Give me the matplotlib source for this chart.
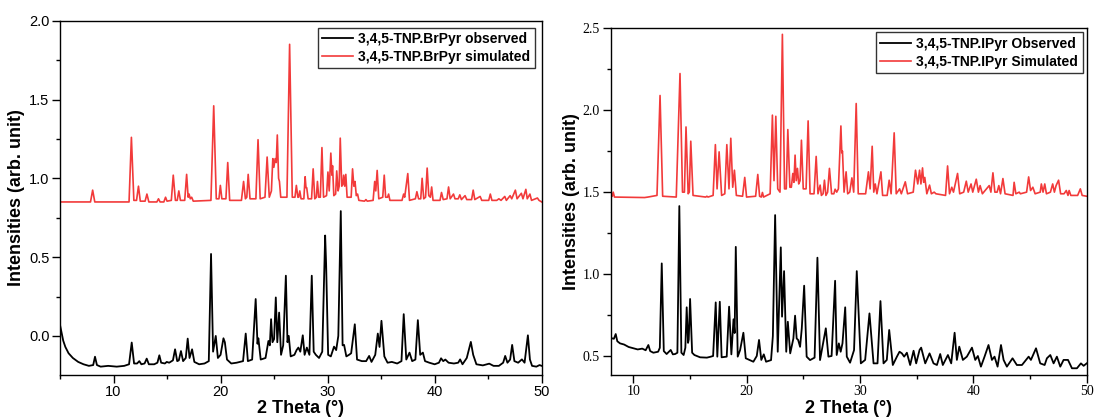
import matplotlib
matplotlib.use("Agg")
import matplotlib.pyplot as plt
from matplotlib.ticker import MultipleLocator, FormatStrFormatter

# ---------------- data: (2theta, intensity) vertices of each pattern ----------------
br_observed = [
    (5.0, 0.07), (5.15, 0.02), (5.3, -0.03), (5.5, -0.07), (5.8, -0.11), (6.2, -0.14),
    (6.7, -0.165), (7.2, -0.18), (7.7, -0.19), (8.1, -0.185), (8.27, -0.132), (8.45, -0.185),
    (8.8, -0.195), (9.5, -0.19), (10.3, -0.195), (11.0, -0.19), (11.45, -0.18), (11.7, -0.042),
    (11.92, -0.175), (12.2, -0.175), (12.41, -0.16), (12.6, -0.18), (12.9, -0.175), (13.1, -0.144),
    (13.3, -0.18), (13.8, -0.18), (14.1, -0.17), (14.28, -0.123), (14.45, -0.17), (14.8, -0.175),
    (14.97, -0.165), (15.2, -0.17), (15.55, -0.155), (15.75, -0.085), (15.95, -0.16), (16.1, -0.155),
    (16.3, -0.096), (16.5, -0.16), (16.75, -0.14), (16.93, -0.017), (17.1, -0.14), (17.34, -0.085),
    (17.55, -0.165), (18.0, -0.18), (18.5, -0.175), (18.9, -0.16), (19.11, 0.52), (19.3, -0.1),
    (19.55, 0.0), (19.75, -0.14), (20.0, -0.12), (20.27, -0.015), (20.4, -0.04), (20.6, -0.15),
    (21.0, -0.175), (21.5, -0.17), (22.1, -0.16), (22.35, 0.015), (22.55, -0.16), (22.95, -0.15),
    (23.28, 0.234), (23.45, -0.05), (23.53, -0.015), (23.75, -0.15), (24.2, -0.14), (24.47, -0.032),
    (24.6, -0.06), (24.72, 0.106), (24.85, -0.04), (25.0, -0.02), (25.16, 0.244), (25.3, -0.04),
    (25.47, 0.148), (25.65, -0.12), (25.85, -0.06), (26.1, 0.382), (26.25, -0.04), (26.37, 0.0),
    (26.55, -0.13), (26.9, -0.12), (27.1, -0.09), (27.27, -0.074), (27.45, -0.1), (27.68, 0.004),
    (27.85, -0.12), (28.06, -0.074), (28.3, -0.12), (28.52, 0.382), (28.7, -0.1), (28.9, -0.12),
    (29.2, -0.14), (29.5, -0.1), (29.77, 0.637), (29.86, 0.457), (30.05, -0.12), (30.3, -0.13),
    (30.6, -0.068), (30.8, -0.09), (31.0, 0.0), (31.23, 0.792), (31.4, -0.06), (31.54, -0.057),
    (31.75, -0.13), (32.0, -0.12), (32.2, -0.11), (32.54, 0.074), (32.75, -0.15), (33.2, -0.16),
    (33.6, -0.16), (33.88, -0.127), (34.1, -0.165), (34.45, -0.12), (34.69, 0.015), (34.85, -0.07),
    (35.03, 0.096), (35.3, -0.13), (35.6, -0.17), (36.0, -0.165), (36.5, -0.175), (36.9, -0.16),
    (37.11, 0.138), (37.35, -0.15), (37.65, -0.106), (37.9, -0.16), (38.2, -0.15), (38.43, 0.10),
    (38.65, -0.12), (38.9, -0.106), (39.1, -0.16), (39.5, -0.17), (40.0, -0.18), (40.4, -0.17),
    (40.6, -0.142), (40.8, -0.16), (41.0, -0.15), (41.3, -0.17), (41.8, -0.175), (42.2, -0.17),
    (42.38, -0.149), (42.6, -0.18), (43.0, -0.14), (43.38, -0.038), (43.6, -0.12), (43.9, -0.18),
    (44.5, -0.187), (45.1, -0.176), (45.5, -0.19), (46.0, -0.19), (46.4, -0.17), (46.59, -0.127),
    (46.8, -0.17), (47.05, -0.15), (47.24, -0.057), (47.45, -0.16), (47.8, -0.17), (48.15, -0.149),
    (48.4, -0.17), (48.71, 0.004), (48.9, -0.15), (49.1, -0.19), (49.5, -0.195), (49.8, -0.185),
    (50.0, -0.19),
]

br_simulated = [
    (5.0, 0.85), (7.85, 0.85), (8.05, 0.925), (8.25, 0.85),
    (11.45, 0.85), (11.67, 1.26), (11.9, 0.86), (12.15, 0.86), (12.33, 0.95), (12.5, 0.855),
    (12.95, 0.855), (13.12, 0.90), (13.3, 0.85), (14.05, 0.85), (14.2, 0.87), (14.35, 0.85),
    (14.7, 0.85), (14.86, 0.88), (15.0, 0.855), (15.4, 0.86), (15.58, 1.02), (15.78, 0.86),
    (15.95, 0.86), (16.1, 0.92), (16.25, 0.86), (16.65, 0.86), (16.83, 1.025), (16.97, 0.88),
    (17.06, 0.90), (17.17, 0.87), (17.3, 0.88), (17.45, 0.855),
    (19.1, 0.86), (19.36, 1.46), (19.6, 0.87), (19.85, 0.87), (19.98, 0.955), (20.12, 0.87),
    (20.5, 0.87), (20.67, 1.10), (20.85, 0.86), (21.95, 0.86), (22.15, 0.98), (22.32, 0.87),
    (22.45, 0.88), (22.58, 1.025), (22.75, 0.87), (23.3, 0.87), (23.5, 1.245), (23.7, 0.87),
    (24.15, 0.88), (24.35, 1.135), (24.55, 0.88), (24.75, 0.92), (24.88, 1.125), (24.98, 1.07),
    (25.1, 1.125), (25.2, 1.10), (25.3, 1.275), (25.42, 1.0), (25.5, 0.98), (25.62, 0.88),
    (26.2, 0.88), (26.45, 1.85), (26.7, 0.88), (26.95, 0.88), (27.08, 0.955), (27.22, 0.88),
    (27.3, 0.88), (27.4, 0.92), (27.52, 0.87), (27.78, 0.87), (27.9, 1.01), (27.98, 0.94),
    (28.05, 0.94), (28.18, 0.87), (28.5, 0.87), (28.65, 1.06), (28.8, 0.87), (28.95, 0.88),
    (29.05, 0.98), (29.17, 0.88), (29.32, 0.88), (29.47, 1.195), (29.62, 0.88), (29.9, 0.89),
    (30.03, 1.04), (30.15, 0.92), (30.3, 1.16), (30.4, 1.02), (30.46, 1.08), (30.58, 0.89),
    (30.75, 0.90), (30.85, 1.047), (30.98, 0.92), (31.08, 0.95), (31.18, 1.255), (31.32, 0.95),
    (31.42, 0.96), (31.5, 1.02), (31.6, 0.95), (31.7, 1.025), (31.82, 0.88), (32.2, 0.88),
    (32.33, 1.06), (32.45, 0.95), (32.56, 0.98), (32.68, 0.89), (32.8, 0.90), (32.92, 0.86),
    (33.45, 0.855), (33.58, 0.865), (33.7, 0.855), (34.25, 0.86), (34.4, 0.98), (34.5, 0.92),
    (34.63, 1.05), (34.78, 0.87), (35.15, 0.88), (35.29, 1.02), (35.42, 0.88), (35.6, 0.88),
    (35.7, 0.90), (35.82, 0.86), (36.95, 0.86), (37.1, 0.90), (37.2, 0.88), (37.49, 1.03),
    (37.65, 0.86), (38.2, 0.87), (38.34, 0.915), (38.5, 0.87), (38.7, 0.87), (38.83, 1.0),
    (38.98, 0.87), (39.15, 0.88), (39.3, 1.065), (39.45, 0.89), (39.6, 0.88), (39.72, 0.945),
    (39.85, 0.86), (40.5, 0.86), (40.64, 0.91), (40.8, 0.865), (41.15, 0.87), (41.3, 0.945),
    (41.45, 0.87), (41.76, 0.90), (41.9, 0.87), (42.2, 0.87), (42.35, 0.895), (42.5, 0.865),
    (42.84, 0.89), (43.0, 0.865), (43.45, 0.865), (43.6, 0.925), (43.75, 0.865), (44.25, 0.885),
    (44.4, 0.86), (45.05, 0.86), (45.2, 0.90), (45.35, 0.86), (45.8, 0.86), (46.0, 0.87),
    (46.2, 0.86), (46.55, 0.885), (46.7, 0.86), (47.05, 0.89), (47.2, 0.87), (47.54, 0.925),
    (47.7, 0.87), (48.1, 0.905), (48.25, 0.87), (48.52, 0.93), (48.65, 0.87), (48.9, 0.90),
    (49.05, 0.86), (49.6, 0.875), (49.75, 0.86), (50.0, 0.85),
]

i_observed = [
    (8.0, 0.61), (8.3, 0.605), (8.46, 0.634), (8.6, 0.59), (8.84, 0.577), (9.2, 0.57), (9.6, 0.555),
    (10.01, 0.547), (10.4, 0.54), (10.8, 0.545), (11.1, 0.535), (11.34, 0.567), (11.5, 0.53),
    (11.78, 0.52), (12.2, 0.526), (12.35, 0.55), (12.52, 1.065), (12.7, 0.53), (12.95, 0.512),
    (13.31, 0.537), (13.5, 0.51), (13.7, 0.512), (13.9, 0.52), (14.07, 1.415), (14.25, 0.52),
    (14.45, 0.506), (14.6, 0.55), (14.72, 0.797), (14.84, 0.58), (14.9, 0.6), (15.02, 0.848),
    (15.2, 0.52), (15.4, 0.506), (15.9, 0.492), (16.5, 0.49), (16.8, 0.495), (17.05, 0.5),
    (17.28, 0.827), (17.42, 0.496), (17.64, 0.831), (17.8, 0.492), (18.25, 0.496), (18.46, 0.801),
    (18.66, 0.51), (18.85, 0.724), (18.95, 0.64), (19.05, 1.166), (19.22, 0.496), (19.43, 0.536),
    (19.72, 0.642), (19.93, 0.486), (20.6, 0.465), (20.9, 0.5), (21.1, 0.598), (21.3, 0.476),
    (21.52, 0.51), (21.72, 0.465), (22.16, 0.475), (22.32, 0.622), (22.52, 1.36), (22.75, 0.526),
    (23.02, 1.163), (23.13, 0.74), (23.31, 1.018), (23.5, 0.526), (23.64, 0.709), (23.85, 0.516),
    (24.13, 0.607), (24.28, 0.746), (24.42, 0.607), (24.55, 0.598), (24.72, 0.556), (24.87, 0.668),
    (25.08, 0.929), (25.3, 0.496), (25.6, 0.475), (26.0, 0.49), (26.25, 1.1), (26.48, 0.475),
    (26.99, 0.669), (27.22, 0.496), (27.5, 0.5), (27.81, 0.959), (27.95, 0.506), (28.14, 0.577),
    (28.3, 0.526), (28.46, 0.577), (28.7, 0.797), (28.84, 0.496), (29.13, 0.459), (29.48, 0.536),
    (29.72, 1.018), (30.08, 0.455), (30.46, 0.476), (30.84, 0.76), (31.2, 0.455), (31.55, 0.455),
    (31.81, 0.835), (32.08, 0.455), (32.37, 0.476), (32.58, 0.659), (32.9, 0.445), (33.26, 0.496),
    (33.49, 0.526), (33.7, 0.516), (33.9, 0.496), (34.14, 0.52), (34.43, 0.445), (34.73, 0.532),
    (34.96, 0.455), (35.26, 0.537), (35.4, 0.551), (35.76, 0.455), (36.14, 0.516), (36.49, 0.455),
    (36.79, 0.445), (37.08, 0.512), (37.31, 0.445), (37.76, 0.506), (38.05, 0.455), (38.35, 0.642),
    (38.55, 0.476), (38.76, 0.557), (39.08, 0.476), (39.43, 0.496), (39.88, 0.551), (40.17, 0.476),
    (40.4, 0.5), (40.67, 0.435), (40.99, 0.496), (41.34, 0.567), (41.64, 0.476), (41.87, 0.496),
    (42.14, 0.435), (42.44, 0.567), (42.67, 0.476), (42.96, 0.435), (43.46, 0.486), (43.84, 0.445),
    (44.29, 0.445), (44.88, 0.496), (45.08, 0.476), (45.53, 0.547), (45.9, 0.455), (46.29, 0.445),
    (46.49, 0.486), (46.79, 0.506), (47.08, 0.455), (47.37, 0.496), (47.67, 0.435), (47.96, 0.476),
    (48.35, 0.476), (48.7, 0.425), (49.14, 0.425), (49.49, 0.455), (49.73, 0.44), (50.0, 0.455),
]

i_simulated = [
    (8.0, 1.47), (8.15, 1.475), (8.24, 1.50), (8.35, 1.47), (11.0, 1.467), (11.3, 1.47),
    (12.1, 1.48), (12.37, 2.09), (12.6, 1.475), (13.8, 1.47), (14.13, 2.224), (14.35, 1.50),
    (14.52, 1.50), (14.66, 1.898), (14.85, 1.49), (14.95, 1.5), (15.08, 1.811), (15.28, 1.48),
    (16.4, 1.47), (16.5, 1.475), (16.6, 1.47), (17.05, 1.48), (17.25, 1.79), (17.4, 1.52),
    (17.58, 1.746), (17.8, 1.48), (18.08, 1.49), (18.26, 1.79), (18.45, 1.52), (18.61, 1.829),
    (18.78, 1.53), (18.93, 1.634), (19.1, 1.48), (19.65, 1.475), (19.84, 1.59), (20.0, 1.47),
    (20.8, 1.475), (20.99, 1.608), (21.15, 1.475), (21.3, 1.47), (21.4, 1.498), (21.5, 1.47),
    (22.08, 1.49), (22.28, 1.97), (22.42, 1.57), (22.58, 1.963), (22.75, 1.52), (22.95, 1.5),
    (23.16, 2.463), (23.35, 1.52), (23.5, 1.52), (23.64, 1.882), (23.82, 1.53), (23.95, 1.53),
    (24.08, 1.614), (24.18, 1.56), (24.28, 1.726), (24.38, 1.57), (24.49, 1.645), (24.6, 1.55),
    (24.72, 1.57), (24.84, 1.817), (25.0, 1.52), (25.25, 1.52), (25.43, 1.935), (25.6, 1.49),
    (25.95, 1.49), (26.14, 1.718), (26.3, 1.49), (26.49, 1.543), (26.6, 1.48), (26.75, 1.49),
    (26.87, 1.573), (27.0, 1.48), (27.15, 1.5), (27.31, 1.645), (27.5, 1.49), (27.7, 1.49),
    (27.81, 1.518), (27.95, 1.5), (28.1, 1.52), (28.32, 1.904), (28.4, 1.74), (28.46, 1.75),
    (28.6, 1.5), (28.78, 1.624), (28.92, 1.49), (29.1, 1.5), (29.29, 1.587), (29.45, 1.5),
    (29.67, 2.041), (29.85, 1.49), (30.5, 1.49), (30.75, 1.624), (30.9, 1.52), (31.08, 1.78),
    (31.22, 1.5), (31.35, 1.55), (31.5, 1.49), (31.85, 1.624), (32.0, 1.48), (32.4, 1.48),
    (32.58, 1.573), (32.75, 1.49), (33.02, 1.862), (33.2, 1.49), (33.5, 1.52), (33.65, 1.49),
    (34.0, 1.563), (34.2, 1.49), (34.7, 1.5), (34.9, 1.634), (35.1, 1.55), (35.26, 1.634),
    (35.38, 1.55), (35.52, 1.648), (35.62, 1.56), (35.72, 1.59), (35.9, 1.49), (36.14, 1.543),
    (36.3, 1.49), (36.55, 1.5), (36.7, 1.49), (37.55, 1.48), (37.73, 1.66), (37.9, 1.49),
    (38.1, 1.53), (38.25, 1.5), (38.61, 1.614), (38.8, 1.49), (39.15, 1.5), (39.38, 1.567),
    (39.55, 1.5), (39.8, 1.55), (39.95, 1.5), (40.26, 1.579), (40.45, 1.5), (40.6, 1.54),
    (40.8, 1.49), (41.4, 1.54), (41.55, 1.5), (41.73, 1.618), (41.9, 1.5), (42.1, 1.5),
    (42.25, 1.54), (42.4, 1.49), (42.61, 1.583), (42.8, 1.49), (43.5, 1.48), (43.6, 1.56),
    (43.75, 1.49), (44.05, 1.5), (44.15, 1.49), (44.7, 1.5), (44.88, 1.593), (45.05, 1.51),
    (45.25, 1.53), (45.45, 1.49), (45.9, 1.5), (46.0, 1.55), (46.15, 1.5), (46.3, 1.55),
    (46.45, 1.49), (46.8, 1.5), (47.0, 1.55), (47.15, 1.5), (47.3, 1.54), (47.52, 1.573),
    (47.7, 1.49), (48.0, 1.49), (48.2, 1.51), (48.35, 1.48), (48.45, 1.51), (48.6, 1.48),
    (49.2, 1.48), (49.44, 1.52), (49.6, 1.48), (50.0, 1.475),
]

br_labels = ["3,4,5-TNP.BrPyr observed", "3,4,5-TNP.BrPyr simulated"]
i_labels = ["3,4,5-TNP.IPyr Observed", "3,4,5-TNP.IPyr Simulated"]
x_title = "2 Theta (\u00b0)"
y_title = "Intensities (arb. unit)"

RED = "#f23a3a"
SANS = "Liberation Sans"
SERIF = "Liberation Serif"


def unzip(points):
    xs, ys = zip(*points)
    return list(xs), list(ys)


fig = plt.figure(figsize=(10.99, 4.18), dpi=100)
W, H = 1099.0, 418.0
ax1 = fig.add_axes([60 / W, 43 / H, 481.7 / W, 354.3 / H])
ax2 = fig.add_axes([610.5 / W, 43 / H, 476.2 / W, 346.7 / H])


def style_axes(ax, tick_family, tick_size):
    for sp in ax.spines.values():
        sp.set_linewidth(1.0)
        sp.set_color("black")
    ax.tick_params(which="major", direction="out", length=5.5, width=1.0, pad=2,
                   labelsize=tick_size)
    ax.tick_params(which="minor", direction="out", length=3.0, width=1.0)
    ax.tick_params(top=False, right=False, which="both")
    ax.xaxis.set_major_locator(MultipleLocator(10))
    ax.xaxis.set_minor_locator(MultipleLocator(5))
    ax.yaxis.set_major_locator(MultipleLocator(0.5))
    ax.yaxis.set_minor_locator(MultipleLocator(0.25))
    ax.yaxis.set_major_formatter(FormatStrFormatter("%.1f"))
    for lab in ax.get_xticklabels() + ax.get_yticklabels():
        lab.set_family(tick_family)


def add_legend(ax, pad):
    leg = ax.legend(loc="upper right", prop={"family": SANS, "weight": "bold", "size": 10},
                    frameon=True, fancybox=False, edgecolor="#333333", framealpha=1,
                    handlelength=2.2, handletextpad=0.4, borderpad=0.3, labelspacing=0.3,
                    borderaxespad=pad)
    leg.get_frame().set_linewidth(1.0)


def add_titles(ax, ylab_x, xlab_y):
    ax.set_xlabel(x_title, fontsize=13, fontweight="bold", family=SANS)
    ax.set_ylabel(y_title, fontsize=13, fontweight="bold", family=SANS)
    ax.xaxis.set_label_coords(0.5, xlab_y)
    ax.yaxis.set_label_coords(ylab_x, 0.5)


# ---- left: BrPyr ----
x, y = unzip(br_observed)
ax1.plot(x, y, color="black", lw=1.3, label=br_labels[0])
x, y = unzip(br_simulated)
ax1.plot(x, y, color=RED, lw=1.2, label=br_labels[1])
ax1.set_xlim(5, 50)
ax1.set_ylim(-0.248, 2.0)
style_axes(ax1, SANS, 10.5)
add_titles(ax1, -0.073, -0.07)
add_legend(ax1, 0.5)

# ---- right: IPyr ----
x, y = unzip(i_observed)
ax2.plot(x, y, color="black", lw=1.3, label=i_labels[0])
x, y = unzip(i_simulated)
ax2.plot(x, y, color=RED, lw=1.2, label=i_labels[1])
ax2.set_xlim(8, 50)
ax2.set_ylim(0.384, 2.5)
style_axes(ax2, SERIF, 10)
add_titles(ax2, -0.064, -0.071)
add_legend(ax2, 0.3)

fig.savefig("out.png", dpi=100)
